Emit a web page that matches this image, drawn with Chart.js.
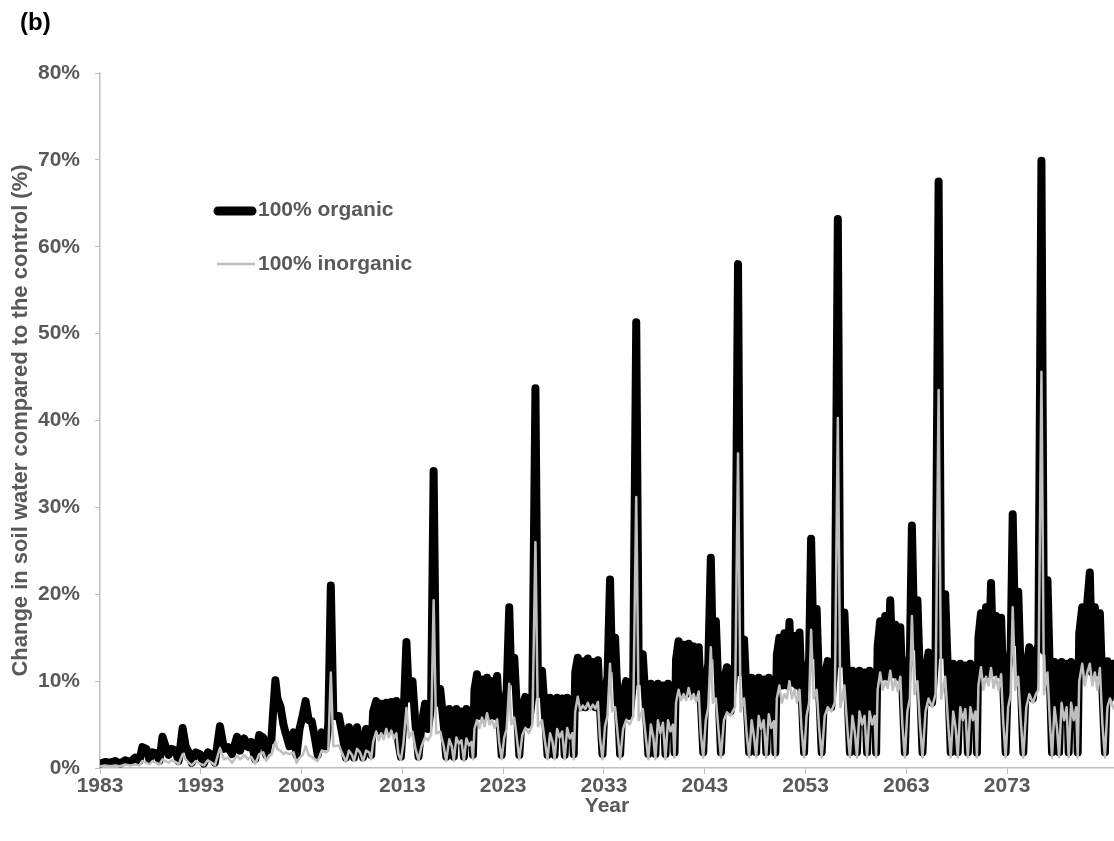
<!DOCTYPE html>
<html>
<head>
<meta charset="utf-8">
<title>Change in soil water</title>
<script src="https://cdn.jsdelivr.net/npm/chart.js@4.4.1/dist/chart.umd.min.js"></script>
<style>
  html, body { margin: 0; padding: 0; background: #fff; }
  #wrap { width: 1114px; height: 841px; }
</style>
</head>
<body>
<div id="wrap"><canvas id="myChart" width="1114" height="841"></canvas></div>
<script>
// time axis (decimal years), one row per decade
var years = [
  1983.0,1983.5,1984.0,1984.5,1985.0,1985.5,1986.0,1986.5,1986.9,1987.2,1987.6,1987.9,1988.2,1988.6,1988.9,1989.2,1989.5,1989.8,1990.1,1990.5,1990.8,1991.2,1991.5,1991.8,1992.1,1992.5,1992.9,1993.3,1993.7,1994.1,1994.4,1994.9,1995.3,1995.7,1996.1,1996.6,1996.9,1997.3,1997.7,1998.0,1998.4,1998.8,1999.2,1999.5,1999.8,
  2000.0,2000.15,2000.4,2000.6,2000.9,2001.2,2001.4,2001.8,2002.2,2002.5,2002.8,2003.1,2003.4,2003.7,2004.0,2004.3,2004.6,2005.0,2005.4,2005.65,2005.9,2006.15,2006.7,2007.1,2007.4,2007.7,2008.0,2008.2,2008.5,2008.8,2009.1,2009.4,2009.7,2009.9,
  2010.1,2010.4,2010.65,2010.9,2011.15,2011.4,2011.65,2011.9,2012.15,2012.4,2012.6,2012.85,2013.1,2013.4,2013.65,2014.0,2014.3,2014.6,2014.9,2015.25,2015.55,2015.85,2016.1,2016.35,2016.75,2017.1,2017.35,2017.65,2017.9,2018.1,2018.35,2018.6,2018.85,2019.1,2019.35,2019.6,2019.85,
  2020.0,2020.15,2020.4,2020.65,2020.9,2021.15,2021.4,2021.65,2021.9,2022.15,2022.4,2022.6,2022.85,2023.1,2023.35,2023.6,2023.8,2024.1,2024.35,2024.6,2024.9,2025.2,2025.55,2025.9,2026.2,2026.45,2026.85,2027.15,2027.4,2027.65,2027.9,2028.1,2028.35,2028.6,2028.85,2029.1,2029.35,2029.6,2029.85,
  2030.0,2030.15,2030.4,2030.65,2030.9,2031.15,2031.4,2031.65,2031.9,2032.15,2032.4,2032.6,2032.85,2033.1,2033.35,2033.6,2033.8,2034.1,2034.35,2034.6,2034.9,2035.2,2035.55,2035.9,2036.2,2036.45,2036.85,2037.15,2037.4,2037.65,2037.9,2038.1,2038.35,2038.6,2038.85,2039.1,2039.35,2039.6,2039.85,
  2040.0,2040.15,2040.4,2040.65,2040.9,2041.15,2041.4,2041.65,2041.9,2042.15,2042.4,2042.6,2042.85,2043.1,2043.35,2043.6,2043.8,2044.1,2044.35,2044.6,2044.9,2045.2,2045.55,2046.0,2046.3,2046.55,2046.9,2047.15,2047.4,2047.65,2047.9,2048.1,2048.35,2048.6,2048.85,2049.1,2049.35,2049.6,2049.85,
  2050.0,2050.15,2050.4,2050.65,2050.9,2051.15,2051.4,2051.65,2051.9,2052.15,2052.4,2052.6,2052.85,2053.1,2053.35,2053.55,2053.8,2054.1,2054.35,2054.6,2054.9,2055.2,2055.55,2055.9,2056.2,2056.45,2056.85,2057.15,2057.4,2057.65,2057.9,2058.1,2058.35,2058.6,2058.85,2059.1,2059.35,2059.6,2059.85,
  2060.0,2060.15,2060.4,2060.65,2060.9,2061.15,2061.4,2061.65,2061.9,2062.15,2062.4,2062.6,2062.85,2063.1,2063.35,2063.55,2063.8,2064.1,2064.35,2064.6,2064.9,2065.2,2065.55,2065.9,2066.2,2066.45,2066.85,2067.15,2067.4,2067.65,2067.9,2068.1,2068.35,2068.6,2068.85,2069.1,2069.35,2069.6,2069.85,
  2070.0,2070.15,2070.4,2070.65,2070.9,2071.15,2071.4,2071.65,2071.9,2072.15,2072.4,2072.6,2072.85,2073.1,2073.35,2073.55,2073.8,2074.1,2074.35,2074.6,2074.9,2075.2,2075.55,2075.85,2076.1,2076.4,2076.65,2077.0,2077.25,2077.45,2077.7,2077.95,2078.15,2078.4,2078.65,2078.9,2079.1,2079.35,2079.6,2079.85,
  2080.0,2080.15,2080.45,2080.7,2080.95,2081.2,2081.45,2081.7,2081.95,2082.2,2082.45,2082.7,2082.95,2083.2,2083.5,2083.8
];

// % change vs control, 100% organic
var organic = [
  0.5,0.7,0.6,0.8,0.5,0.9,0.7,1.2,0.8,2.4,2.2,1.0,1.8,1.7,0.8,3.6,2.5,1.5,2.2,2.0,0.8,4.6,2.5,1.8,0.6,1.8,1.6,0.5,1.8,1.5,0.6,4.8,2.2,2.4,1.6,3.6,2.0,3.4,2.4,3.0,1.0,3.8,3.5,1.5,3.2,
  3.2,6.0,10.1,8.0,7.1,5.0,4.1,2.5,4.1,1.5,4.5,6.0,7.7,5.5,5.4,3.6,1.5,4.1,2.5,5.0,21.0,6.0,6.0,3.5,1.2,4.7,2.6,1.2,4.7,2.6,1.2,4.5,2.6,1.5,
  6.5,7.7,4.3,7.4,4.3,7.5,4.3,7.6,4.3,7.7,3.0,1.3,5.5,14.5,8.0,10.0,5.0,1.3,5.0,7.4,4.5,7.2,34.2,7.5,9.1,5.0,1.3,6.8,3.0,1.3,6.8,3.2,6.5,1.3,6.8,3.2,6.0,
  1.5,9.0,10.8,6.0,10.2,6.0,10.4,6.0,10.0,6.0,10.6,6.0,1.5,7.0,9.0,18.5,10.0,12.7,7.0,1.5,7.0,8.2,5.0,8.5,43.7,8.5,11.2,6.0,1.5,8.1,4.0,1.5,8.1,4.0,8.0,1.5,8.1,4.0,7.8,
  1.6,11.0,12.7,7.0,12.3,7.0,12.6,7.2,12.2,7.0,12.4,7.0,1.6,8.5,10.5,21.7,11.5,15.0,8.0,1.6,8.5,10.0,6.0,10.2,51.3,10.0,13.1,7.0,1.6,9.7,5.0,1.6,9.7,5.0,9.5,1.6,9.7,5.0,9.3,
  1.8,12.5,14.6,8.5,14.2,8.5,14.3,8.8,14.0,8.5,13.9,8.0,1.8,10.0,12.0,24.2,13.0,16.9,9.0,1.8,10.0,11.6,6.5,12.0,58.0,11.0,14.8,8.0,1.8,10.4,5.8,1.8,10.4,5.8,10.2,1.8,10.4,5.8,10.0,
  1.8,13.0,15.0,9.5,15.5,9.5,16.8,9.8,15.2,9.5,15.6,9.0,1.8,10.5,12.5,26.4,13.0,18.3,9.0,1.8,10.5,12.3,7.0,12.5,63.2,12.0,17.9,9.0,1.8,11.2,6.5,1.8,11.2,6.5,11.0,1.8,11.2,6.5,10.8,
  1.8,14.0,16.9,10.5,17.5,10.5,19.3,10.8,16.5,10.5,16.2,9.5,1.8,11.0,13.0,27.9,14.0,19.3,10.0,1.8,11.0,13.3,7.5,13.5,67.5,13.0,20.0,10.0,1.8,12.0,7.0,1.8,12.0,7.0,11.8,1.8,12.0,7.0,11.5,
  1.8,15.0,17.8,10.8,18.5,10.8,21.3,11.0,17.5,10.8,17.3,10.0,1.8,11.5,13.5,29.2,14.5,20.3,10.5,1.8,11.5,13.9,8.0,13.5,14.0,69.9,13.5,21.6,10.0,1.8,12.2,7.2,1.8,12.2,7.2,12.0,1.8,12.2,7.2,11.8,
  1.8,15.5,18.5,11.0,19.0,22.5,11.0,18.5,11.0,17.8,9.0,1.8,12.3,8.0,12.0,11.0
];

// % change vs control, 100% inorganic
var inorganic = [
  0.2,0.3,0.2,0.3,0.2,0.4,0.3,0.4,0.3,0.8,0.6,0.4,0.8,0.6,0.4,1.0,0.8,0.6,0.9,0.7,0.4,1.6,1.0,0.6,0.3,0.8,0.5,0.3,0.9,0.6,0.3,2.3,1.0,1.2,0.6,1.4,1.0,1.5,1.0,1.3,0.5,1.6,1.8,0.8,1.5,
  1.5,2.0,3.0,2.2,2.0,1.6,1.8,1.6,1.8,0.6,1.2,1.5,2.5,1.5,1.3,1.0,0.8,2.0,1.8,2.0,11.0,2.5,2.6,1.5,0.7,2.0,1.5,0.8,2.2,1.8,0.8,2.0,1.8,1.0,
  3.0,4.2,3.2,4.0,3.3,4.5,3.5,4.3,3.4,4.0,1.6,0.9,2.8,6.9,3.5,4.2,2.2,0.9,2.5,3.5,3.2,3.8,19.3,4.0,4.2,2.5,0.8,3.3,2.5,0.8,3.5,2.8,3.2,0.8,3.4,2.6,3.0,
  1.0,4.5,5.5,4.6,5.8,4.8,6.3,5.0,5.5,4.6,5.6,3.0,1.0,3.5,4.5,9.7,5.0,5.8,3.5,1.0,3.8,4.6,4.0,5.0,26.0,4.8,5.5,3.0,1.0,4.0,3.0,1.0,4.5,3.5,4.2,1.0,4.6,3.4,4.0,
  1.0,6.5,8.2,6.6,7.2,6.8,7.5,6.7,7.3,6.8,7.6,3.5,1.0,4.8,6.0,12.0,6.5,7.0,4.0,1.0,4.5,5.5,5.0,6.0,31.2,5.5,6.8,3.5,1.0,5.0,3.5,1.0,5.5,4.0,5.2,1.0,5.5,4.2,5.0,
  1.2,7.5,9.0,7.8,8.5,7.8,9.2,7.9,8.5,7.6,8.8,4.0,1.2,5.5,7.0,13.9,7.5,8.0,4.5,1.2,5.5,6.4,6.0,7.0,36.2,6.5,8.0,4.0,1.2,5.5,3.5,1.2,6.0,4.5,5.5,1.2,6.2,4.6,5.4,
  1.2,8.0,9.5,7.5,8.5,8.0,10.0,8.0,9.0,7.5,9.0,4.5,1.2,6.0,7.5,15.9,8.0,9.0,4.5,1.2,6.0,7.0,6.5,7.5,40.3,7.0,9.5,4.5,1.2,6.0,4.0,1.2,6.5,5.0,6.0,1.2,6.5,5.0,6.0,
  1.2,9.0,11.0,9.0,10.0,9.2,11.2,9.0,10.2,8.8,10.5,5.0,1.2,6.5,8.0,17.5,8.5,10.0,5.0,1.2,6.5,8.0,7.0,8.5,43.5,8.0,10.5,5.0,1.2,6.5,4.5,1.2,7.0,5.5,6.8,1.2,7.0,5.5,6.5,
  1.2,9.5,11.6,9.0,10.5,9.5,11.5,9.2,10.5,9.0,10.8,5.5,1.2,7.0,8.5,18.5,9.0,10.5,5.5,1.2,7.0,8.5,7.5,8.5,9.0,45.6,8.5,11.0,5.0,1.2,7.0,4.5,1.2,7.5,5.5,7.0,1.2,7.5,5.5,7.0,
  1.2,10.0,12.0,9.5,11.0,12.0,9.5,11.0,9.0,11.5,5.0,1.2,7.0,8.0,7.0,6.5
];

var yearTicks = [1983, 1993, 2003, 2013, 2023, 2033, 2043, 2053, 2063, 2073];
var seriesNames = ['100% organic', '100% inorganic'];
var seriesColors = ['#000000', '#bfbfbf'];

var textGray = '#595959';
var axisGray = '#bfbfbf';
var fontFamily = '"Liberation Sans", Arial, Helvetica, sans-serif';

if (years.length != organic.length || years.length != inorganic.length) {
  console.error('length mismatch', years.length, organic.length, inorganic.length);
}

var orgPoints = years.map(function (x, i) { return { x: x, y: organic[i] }; });
var inorgPoints = years.map(function (x, i) { return { x: x, y: inorganic[i] }; });

// panel letter + in-plot legend
var overlay = {
  id: 'overlay',
  afterDraw: function (chart) {
    var ctx = chart.ctx;
    ctx.save();
    ctx.textBaseline = 'middle';
    ctx.textAlign = 'left';
    ctx.fillStyle = '#000';
    ctx.font = 'bold 24px ' + fontFamily;
    ctx.fillText('(b)', 20, 23);

    ctx.strokeStyle = chart.data.datasets[0].borderColor;
    ctx.lineWidth = 9;
    ctx.lineCap = 'round';
    ctx.beginPath();
    ctx.moveTo(218, 211);
    ctx.lineTo(252, 211);
    ctx.stroke();

    ctx.strokeStyle = chart.data.datasets[1].borderColor;
    ctx.lineWidth = 2.5;
    ctx.lineCap = 'butt';
    ctx.beginPath();
    ctx.moveTo(217, 264);
    ctx.lineTo(255, 264);
    ctx.stroke();

    ctx.fillStyle = textGray;
    ctx.font = 'bold 21px ' + fontFamily;
    ctx.fillText(chart.data.datasets[0].label, 258, 210);
    ctx.fillText(chart.data.datasets[1].label, 258, 264);
    ctx.restore();
  }
};

var ctx = document.getElementById('myChart').getContext('2d');
var myChart = new Chart(ctx, {
  type: 'line',
  data: {
    datasets: [{
      label: seriesNames[0],
      data: orgPoints,
      borderColor: seriesColors[0],
      backgroundColor: seriesColors[0],
      borderWidth: 8,
      borderJoinStyle: 'round',
      borderCapStyle: 'round',
      pointRadius: 0,
      tension: 0,
      fill: false,
      order: 1
    }, {
      label: seriesNames[1],
      data: inorgPoints,
      borderColor: seriesColors[1],
      backgroundColor: seriesColors[1],
      borderWidth: 2.5,
      borderJoinStyle: 'round',
      borderCapStyle: 'round',
      pointRadius: 0,
      tension: 0,
      fill: false,
      order: 0
    }]
  },
  options: {
    responsive: false,
    devicePixelRatio: 1,
    animation: false,
    layout: { padding: { top: 73, right: 0, bottom: 22, left: 0 } },
    plugins: {
      legend: { display: false },
      tooltip: { enabled: false }
    },
    scales: {
      x: {
        type: 'linear',
        min: 1983,
        max: 2083.6,
        afterBuildTicks: function (s) { s.ticks = yearTicks.map(function (v) { return { value: v }; }); },
        afterFit: function (s) { s.height = 51; },
        ticks: {
          autoSkip: false,
          maxRotation: 0,
          padding: 0,
          color: textGray,
          font: { family: fontFamily, size: 21, weight: 'bold' },
          callback: function (v) { return String(v); }
        },
        grid: { drawOnChartArea: false, drawTicks: true, tickLength: 6, color: axisGray },
        border: { display: true, color: axisGray, width: 1.5 },
        title: {
          display: true,
          text: 'Year',
          color: textGray,
          font: { family: fontFamily, size: 21, weight: 'bold' },
          padding: 0
        }
      },
      y: {
        min: 0,
        max: 80,
        afterFit: function (s) { s.width = 100; },
        ticks: {
          stepSize: 10,
          padding: 15,
          color: textGray,
          font: { family: fontFamily, size: 21, weight: 'bold' },
          callback: function (v) { return v + '%'; }
        },
        grid: { drawOnChartArea: false, drawTicks: true, tickLength: 5, color: axisGray },
        border: { display: true, color: axisGray, width: 1.5 },
        title: {
          display: true,
          text: 'Change in soil water compared to the control (%)',
          color: textGray,
          font: { family: fontFamily, size: 22, weight: 'bold' },
          padding: { top: 8, bottom: 0 }
        }
      }
    }
  },
  plugins: [overlay]
});
</script>
</body>
</html>
